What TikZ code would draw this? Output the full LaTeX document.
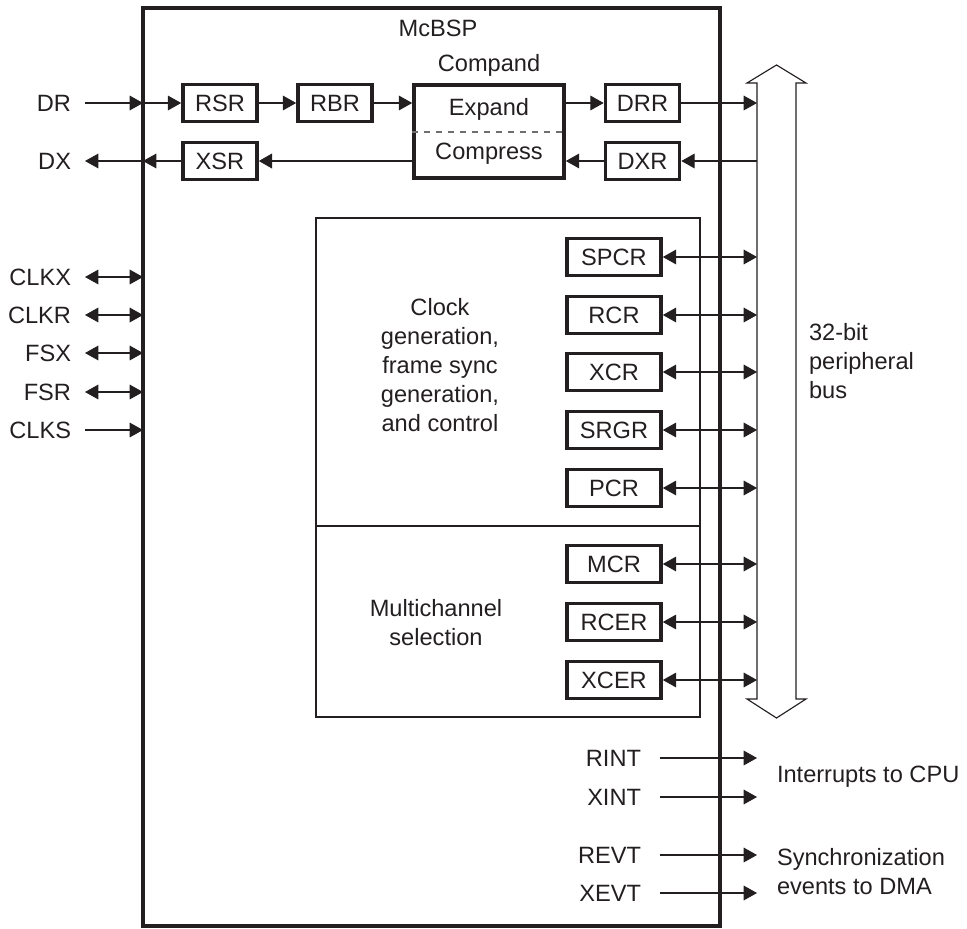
\documentclass[tikz,border=0pt]{standalone}
\usepackage{fontspec}
\setmainfont{Liberation Sans}
\usetikzlibrary{arrows.meta}
\definecolor{ink}{HTML}{231F20}
\begin{document}
\begin{tikzpicture}[x=0.75pt,y=-0.75pt,
  every node/.style={text=ink},
  font=\fontsize{17.7}{21.75}\selectfont,
  >={Triangle[length=10pt,width=11pt]},
  conn/.style={draw=ink, line width=0.85pt},
  reg/.style={draw=ink, line width=2.7pt, minimum width=55.5pt, minimum height=27.5pt, inner sep=0pt},
  wreg/.style={reg, minimum width=70.5pt},
  lab/.style={inner sep=0pt, outer sep=0pt},
  leftlab/.style={lab, anchor=east},
  thinbox/.style={draw=ink, line width=0.9pt}]
\useasboundingbox (0,0) rectangle (967,928);

% outer McBSP box
\draw[draw=ink, line width=2.6pt] (143,8) rectangle (720,926);
\node[lab] (mcbsp) at (438,28) {McBSP};

% border coordinates
\coordinate (L) at (143,0);
\coordinate (R) at (720,0);
\coordinate (busL) at (757,0);

% inner control box
\draw[thinbox] (316,218) rectangle (700,717);
\draw[thinbox] (316,526) -- (700,526);
\node[lab, align=center] (clk) at (440,365) {Clock\\generation,\\frame sync\\generation,\\and control};
\node[lab, align=center] (mch) at (436,623) {Multichannel\\selection};

% peripheral bus (double block arrow)
\draw[draw=ink, line width=0.85pt, fill=white]
  (757,83) -- (757,699) -- (747,699) -- (776.5,718) -- (806,699) -- (796,699)
  -- (796,83) -- (806,83) -- (776.5,65) -- (747,83) -- cycle;
\node[lab, align=left, anchor=west] (bus) at (809,361) {32-bit\\peripheral\\bus};

% data path
\node[reg] (rsr) at (220,103) {RSR};
\node[reg] (rbr) at (335,103) {RBR};
\node[reg] (xsr) at (220,161) {XSR};
\node[reg] (drr) at (642.5,103) {DRR};
\node[reg] (dxr) at (642.5,161) {DXR};
\node[draw=ink, line width=2.7pt, minimum width=112.5pt, minimum height=70pt, inner sep=0pt] (comp) at (489,131.5) {};
\node[lab] (compand) at (489,65) {Compand};
\node[lab] (expand) at (489,109) {Expand};
\node[lab] (compress) at (489,154) {Compress};
\coordinate (dsh) at (489,132);
\draw[draw=ink!65, line width=0.8pt, dash pattern=on 4.5pt off 4.5pt] (comp.west |- dsh) -- (comp.east |- dsh);

% left pins
\node[leftlab] (dr) at (71,103) {DR};
\node[leftlab] (dx) at (71,161) {DX};
\node[leftlab] (clkx) at (71,277) {CLKX};
\node[leftlab] (clkr) at (71,315) {CLKR};
\node[leftlab] (fsx) at (71,353) {FSX};
\node[leftlab] (fsr) at (71,392) {FSR};
\node[leftlab] (clks) at (71,430) {CLKS};

\draw[conn,->] ([xshift=10.5pt]dr.east) -- (dr.east -| L);
\draw[conn,->] (dr.east -| L) -- (rsr.west);
\draw[conn,->] (rsr.east) -- (rbr.west);
\draw[conn,->] (rbr.east) -- (rbr.east -| comp.west);
\draw[conn,->] (rbr.east -| comp.east) -- (drr.west);
\draw[conn,->] (drr.east) -- (drr.east -| busL);
\draw[conn,->] (dxr.east -| busL) -- (dxr.east);
\draw[conn,->] (dxr.west) -- (dxr.west -| comp.east);
\draw[conn,line width=1.4pt,->] (xsr.east -| comp.west) -- (xsr.east);
\draw[conn,->] (xsr.west) -- (xsr.west -| L);
\draw[conn,->] (xsr.west -| L) -- ([xshift=10.5pt]dx.east);

\draw[conn,<->] ([xshift=10.5pt]clkx.east) -- (clkx.east -| L);
\draw[conn,<->] ([xshift=10.5pt]clkr.east) -- (clkr.east -| L);
\draw[conn,<->] ([xshift=10.5pt]fsx.east) -- (fsx.east -| L);
\draw[conn,<->] ([xshift=10.5pt]fsr.east) -- (fsr.east -| L);
\draw[conn,->] ([xshift=10.5pt]clks.east) -- (clks.east -| L);

% control registers
\node[wreg] (spcr) at (614,257) {SPCR};
\node[wreg] (rcr) at (614,315) {RCR};
\node[wreg] (xcr) at (614,372) {XCR};
\node[wreg] (srgr) at (614,430) {SRGR};
\node[wreg] (pcr) at (614,488) {PCR};
\node[wreg] (mcr) at (614,564) {MCR};
\node[wreg] (rcer) at (614,622) {RCER};
\node[wreg] (xcer) at (614,680) {XCER};
\foreach \r in {spcr,rcr,xcr,srgr,pcr,mcr,rcer,xcer}
  \draw[conn,<->] (\r.east) -- (\r.east -| busL);

% interrupt / event outputs
\node[leftlab] (rint) at (641,758) {RINT};
\node[leftlab] (xint) at (641,797) {XINT};
\node[leftlab] (revt) at (641,855) {REVT};
\node[leftlab] (xevt) at (641,893) {XEVT};
\foreach \s in {rint,xint,revt,xevt}
  \draw[conn,->] ([xshift=14pt]\s.east) -- (\s.east -| busL);
\node[lab, anchor=west] (irq) at (777,777) {Interrupts to CPU};
\node[lab, anchor=west, align=left] (dma) at (777,872) {Synchronization\\events to DMA};
\end{tikzpicture}
\end{document}
